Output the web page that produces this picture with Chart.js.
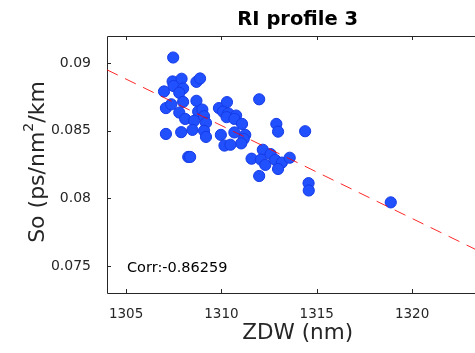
<!DOCTYPE html>
<html>
<head>
<meta charset="utf-8">
<script src="https://cdn.jsdelivr.net/npm/chart.js@4.4.1/dist/chart.umd.min.js"></script>
<style>
  html, body { margin: 0; padding: 0; background: #fff; overflow: hidden; }
  #wrap { width: 475px; height: 353px; overflow: hidden; }
</style>
</head>
<body>
<div id="wrap"><canvas id="riChart" width="495" height="353"></canvas></div>
<script>
// RI profile 3 - ZDW vs slope scatter

const zdw = [
  1307.47, 1306.99, 1307.09, 1307.09, 1307.44, 1307.49, 1307.91, 1307.99, 1307.79, 1307.99,
  1307.37, 1307.79, 1308.10, 1307.89, 1308.69, 1308.88, 1308.69, 1308.78, 1309.00, 1308.57,
  1308.48, 1309.09, 1309.19, 1309.09, 1309.19, 1308.26, 1308.36, 1309.87, 1310.29, 1310.08,
  1310.36, 1310.27, 1310.77, 1310.68, 1311.08, 1309.97, 1310.68, 1311.25, 1311.17, 1311.04,
  1310.16, 1310.47, 1311.98, 1312.88, 1312.97, 1314.39, 1312.17, 1312.58, 1311.58, 1312.07,
  1312.30, 1312.82, 1313.17, 1313.58, 1312.97, 1311.98, 1314.57, 1314.58, 1318.88
];
const slope = [
  0.09041, 0.08790, 0.08667, 0.08476, 0.08864, 0.08830, 0.08884, 0.08812, 0.08780, 0.08713,
  0.08695, 0.08634, 0.08587, 0.08489, 0.08861, 0.08886, 0.08721, 0.08641, 0.08656, 0.08573,
  0.08506, 0.08607, 0.08558, 0.08499, 0.08454, 0.08306, 0.08306, 0.08667, 0.08711, 0.08641,
  0.08628, 0.08600, 0.08612, 0.08587, 0.08550, 0.08469, 0.08487, 0.08469, 0.08439, 0.08406,
  0.08390, 0.08396, 0.08732, 0.08550, 0.08493, 0.08496, 0.08359, 0.08327, 0.08293, 0.08286,
  0.08247, 0.08284, 0.08264, 0.08300, 0.08217, 0.08165, 0.08112, 0.08058, 0.07970
];

// fitted line, end points
const fitX = [1304, 1324];
const fitY = [0.0895, 0.07576];

const xTicks = [1305, 1310, 1315, 1320];
const yTicks = [0.075, 0.08, 0.085, 0.09];
const xRange = [1304, 1324];
const yRange = [0.073, 0.092];

const chartTitle = 'RI profile 3';
const xTitle = 'ZDW (nm)';
const yTitleParts = ['So (ps/nm', '2', '/km'];
const corrLabel = 'Corr:-0.86259';

const axisColor = '#262626';
const fontFamily = '"DejaVu Sans", "Liberation Sans", Arial, sans-serif';

// MATLAB-like box with inward ticks, title, y label with superscript, corr note
const matlabAxes = {
  id: 'matlabAxes',
  beforeDatasetsDraw(chart) {
    const { ctx, chartArea: a, scales } = chart;
    ctx.save();
    ctx.strokeStyle = axisColor;
    ctx.lineWidth = 1;
    ctx.beginPath();
    ctx.rect(Math.round(a.left) + 0.5, Math.round(a.top) + 0.5,
             Math.round(a.right - a.left), Math.round(a.bottom - a.top));
    xTicks.forEach(v => {
      const x = Math.round(scales.x.getPixelForValue(v)) + 0.5;
      ctx.moveTo(x, a.bottom); ctx.lineTo(x, a.bottom - 4);
      ctx.moveTo(x, a.top); ctx.lineTo(x, a.top + 4);
    });
    yTicks.forEach(v => {
      const y = Math.round(scales.y.getPixelForValue(v)) + 0.5;
      ctx.moveTo(a.left, y); ctx.lineTo(a.left + 4, y);
      ctx.moveTo(a.right, y); ctx.lineTo(a.right - 4, y);
    });
    ctx.stroke();
    ctx.restore();
  },
  afterDraw(chart) {
    const { ctx, chartArea: a } = chart;
    ctx.save();
    // title, centred on the axes box
    ctx.fillStyle = '#000';
    ctx.font = 'bold 19.5px ' + fontFamily;
    ctx.textAlign = 'center';
    ctx.textBaseline = 'middle';
    ctx.fillText(chartTitle, (a.left + a.right) / 2, 19.5);

    // corr note
    ctx.font = '14.5px ' + fontFamily;
    ctx.textBaseline = 'middle';
    ctx.textAlign = 'left';
    ctx.fillText(corrLabel, 127, 268);

    // y title, rotated, with superscript
    const big = '22px ' + fontFamily;
    const small = '14px ' + fontFamily;
    ctx.font = big;
    const w1 = ctx.measureText(yTitleParts[0]).width;
    const w3 = ctx.measureText(yTitleParts[2]).width;
    ctx.font = small;
    const w2 = ctx.measureText(yTitleParts[1]).width;
    const total = w1 + w2 + w3;
    ctx.translate(37, 162);
    ctx.rotate(-Math.PI / 2);
    ctx.fillStyle = axisColor;
    ctx.textBaseline = 'alphabetic';
    let x = -total / 2;
    ctx.font = big;
    ctx.fillText(yTitleParts[0], x, 7);
    x += w1;
    ctx.font = small;
    ctx.fillText(yTitleParts[1], x, -4);
    x += w2;
    ctx.font = big;
    ctx.fillText(yTitleParts[2], x, 7);
    ctx.restore();
  }
};

const ctx = document.getElementById('riChart');

new Chart(ctx, {
  type: 'scatter',
  data: {
    datasets: [
      {
        label: 'data',
        data: zdw.map((v, i) => ({ x: v, y: slope[i] })),
        backgroundColor: '#2150ff',
        borderColor: '#143be6',
        borderWidth: 1,
        pointRadius: 5.6,
        order: 2
      },
      {
        label: 'fit',
        type: 'line',
        data: fitX.map((v, i) => ({ x: v, y: fitY[i] })),
        borderColor: 'rgba(255,0,0,0.85)',
        borderWidth: 1,
        borderDash: [12, 8],
        pointRadius: 0,
        fill: false,
        order: 1
      }
    ]
  },
  options: {
    responsive: false,
    animation: false,
    layout: { padding: { left: 0, right: 4, top: 36, bottom: 0 } },
    plugins: {
      legend: { display: false },
      tooltip: { enabled: false },
      title: { display: false }
    },
    scales: {
      x: {
        type: 'linear',
        min: xRange[0],
        max: xRange[1],
        grid: { display: false },
        border: { display: false },
        afterBuildTicks: scale => { scale.ticks = xTicks.map(v => ({ value: v })); },
        afterFit: scale => { scale.height = 60; },
        ticks: {
          color: axisColor,
          padding: 5,
          maxRotation: 0,
          font: { family: fontFamily, size: 13.5 },
          callback: v => String(v)
        },
        title: {
          display: true,
          text: xTitle,
          color: axisColor,
          font: { family: fontFamily, size: 21.5 },
          padding: { top: 0, bottom: 7 }
        }
      },
      y: {
        type: 'linear',
        min: yRange[0],
        max: yRange[1],
        grid: { display: false },
        border: { display: false },
        afterBuildTicks: scale => { scale.ticks = yTicks.map(v => ({ value: v })); },
        afterFit: scale => { scale.width = 107; },
        ticks: {
          color: axisColor,
          padding: 8,
          font: { family: fontFamily, size: 14 },
          callback: v => String(v)
        }
      }
    }
  },
  plugins: [matlabAxes]
});
</script>
</body>
</html>
